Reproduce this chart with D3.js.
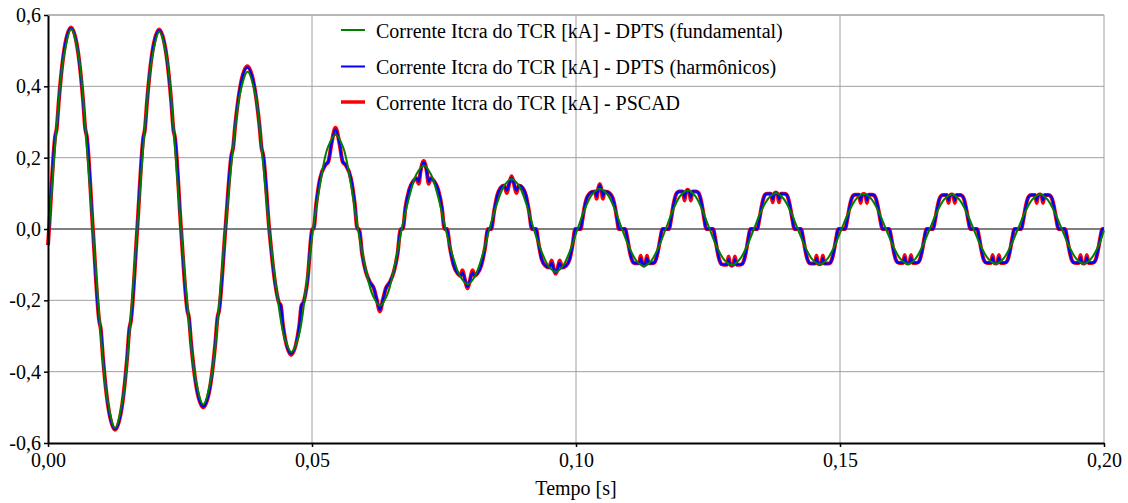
<!DOCTYPE html>
<html><head><meta charset="utf-8">
<script src="https://cdn.jsdelivr.net/npm/d3@7"></script>
<style>
body{margin:0;background:#fff}
svg{display:block}
svg text{font-family:"Liberation Serif","Times New Roman",Times,serif !important;fill:#000}
</style>
</head><body>
<svg id="chart" width="1128" height="503"></svg>
<script>
// ---------- data ----------
const xTicks = [0, 0.05, 0.10, 0.15, 0.20];
const xTickLabels = ["0,00", "0,05", "0,10", "0,15", "0,20"];
const yTicks = [-0.6, -0.4, -0.2, 0, 0.2, 0.4, 0.6];
const yTickLabels = ["-0,6", "-0,4", "-0,2", "0,0", "0,2", "0,4", "0,6"];
const seriesNames = [
  "Corrente Itcra do TCR [kA] - DPTS (fundamental)",
  "Corrente Itcra do TCR [kA] - DPTS (harmônicos)",
  "Corrente Itcra do TCR [kA] - PSCAD"
];
const xLabel = "Tempo [s]";

// fundamental (green) - time [s]
const tFund = [0,
 .0002,.0016,.0030,.0044,.0058,.0071,
 .0085,.0099,.0113,.0127,.0141,.0155,
 .0169,.0183,.0197,.0211,.0225,.0238,
 .0252,.0266,.0280,.0294,.0308,.0322,
 .0336,.0350,.0364,.0378,.0392,.0405,
 .0419,.0433,.0447,.0461,.0475,.0488,
 .0502,.0516,.0530,.0545,.0559,.0573,
 .0587,.0601,.0615,.0629,.0642,.0656,
 .0670,.0684,.0698,.0712,.0725,.0739,
 .0753,.0767,.0781,.0795,.0808,.0822,
 .0836,.0850,.0864,.0878,.0892,.0906,
 .0920,.0934,.0948,.0962,.0975,.0989,
 .1003,.1017,.1031,.1045,.1059,.1073,
 .1087,.1101,.1115,.1129,.1142,.1156,
 .1170,.1184,.1198,.1212,.1225,.1239,
 .1253,.1267,.1281,.1295,.1309,.1323,
 .1337,.1351,.1365,.1379,.1392,.1406,
 .1420,.1434,.1448,.1462,.1475,.1489,
 .1503,.1517,.1531,.1545,.1559,.1573,
 .1587,.1601,.1615,.1629,.1642,.1656,
 .1670,.1684,.1698,.1712,.1725,.1739,
 .1753,.1767,.1781,.1795,.1809,.1823,
 .1837,.1851,.1865,.1879,.1892,.1906,
 .1920,.1934,.1948,.1962,.1975,.1989,
 .2000];
const fundamental = [-.045,
 0,.280,.485,.560,.485,.280,
 0,-.279,-.483,-.558,-.483,-.279,
 0,.277,.479,.553,.479,.277,
 0,-.246,-.426,-.492,-.426,-.246,
 0,.221,.382,.441,.382,.221,
 0,-.173,-.299,-.345,-.299,-.173,
 0,.132,.229,.264,.229,.132,
 0,-.108,-.186,-.215,-.186,-.108,
 0,.089,.154,.178,.154,.089,
 0,-.078,-.134,-.155,-.134,-.078,
 0,.070,.121,.140,.121,.070,
 0,-.060,-.104,-.120,-.104,-.060,
 0,.057,.098,.113,.098,.057,
 0,-.052,-.090,-.104,-.090,-.052,
 0,.054,.094,.108,.094,.054,
 0,-.051,-.087,-.101,-.087,-.051,
 0,.051,.087,.101,.087,.051,
 0,-.050,-.086,-.099,-.086,-.050,
 0,.049,.085,.098,.085,.049,
 0,-.049,-.085,-.098,-.085,-.049,
 0,.049,.084,.097,.084,.049,
 0,-.049,-.084,-.097,-.084,-.049,
 0,.049,.084,.097,.084,.049,
 0,-.049,-.084,-.097,-.084,-.049,
 -.004];

// harmonic models (blue = DPTS harmônicos, red = PSCAD) - time [s]
const tHarm = [0,
 .0002,.00135,.00165,.00205,.00295,.00435,.00575,.00665,.00705,.00735,
 .0085,.0097,.0100,.0104,.0113,.0127,.0141,.0150,.0154,.0157,
 .0169,.01805,.01835,.01875,.01965,.02105,.02245,.02335,.02375,.02405,
 .0252,.0264,.0267,.0271,.0280,.0294,.0308,.0317,.0321,.0324,
 .0336,.03475,.03505,.03545,.03635,.03775,.03915,.04005,.04045,.04075,
 .0419,.0430,.0437,.0441,.0445,.04605,.0476,.0480,.0484,.0491,.0501,
 .0503,.0508,.0515,.0525,.0531,.0537,.05445,.0552,.0558,.0564,.0574,.0581,.0586,
 .0589,.0595,.0602,.0610,.0617,.0623,.06285,.0634,.0640,.0647,.0655,.0662,.0668,
 .0672,.0677,.0684,.0692,.0698,.0702,.0706,.07115,.0717,.0721,.0725,.0731,.0739,.0746,.0751,
 .07558,.0761,.0768,.0776,.0781,.0785,.0790,.07945,.0799,.0804,.0808,.0813,.0821,.0828,.08332,
 .08395,.0845,.0851,.0857,.0864,.0869,.0874,.0878,.0882,.0887,.0892,.0899,.0905,.0911,.09165,
 .09245,.0929,.0935,.0942,.0949,.0954,.0958,.09615,.0965,.0969,.0974,.0981,.0988,.0994,.09985,
 .1009,.1012,.1016,.1020,.1025,.1030,.1036,.1039,.1042,.1045,.1048,.1051,.1054,.1060,.1065,.1070,.1074,.1078,.1081,
 .10935,.10965,.10995,.11025,.11055,.11085,.11125,.11195,.11225,.11255,.11285,.11315,.11345,.11375,.11445,.11485,.11515,.11545,.11575,.11605,.11635,
 .11765,.11795,.11825,.11855,.11885,.11915,.11955,.12025,.12055,.12085,.12115,.12145,.12175,.12205,.12275,.12315,.12345,.12375,.12405,.12435,.12465,
 .1260,.1263,.1266,.1269,.1272,.1275,.1279,.1286,.1289,.1292,.1295,.1298,.1301,.1304,.1311,.1315,.1318,.1321,.1324,.1327,.1330,
 .13435,.13465,.13495,.13525,.13555,.13585,.13625,.13695,.13725,.13755,.13785,.13815,.13845,.13875,.13945,.13985,.14015,.14045,.14075,.14105,.14135,
 .14265,.14295,.14325,.14355,.14385,.14415,.14455,.14525,.14555,.14585,.14615,.14645,.14675,.14705,.14775,.14815,.14845,.14875,.14905,.14935,.14965,
 .1510,.1513,.1516,.1519,.1522,.1525,.1529,.1536,.1539,.1542,.1545,.1548,.1551,.1554,.1561,.1565,.1568,.1571,.1574,.1577,.1580,
 .15935,.15965,.15995,.16025,.16055,.16085,.16125,.16195,.16225,.16255,.16285,.16315,.16345,.16375,.16445,.16485,.16515,.16545,.16575,.16605,.16635,
 .16765,.16795,.16825,.16855,.16885,.16915,.16955,.17025,.17055,.17085,.17115,.17145,.17175,.17205,.17275,.17315,.17345,.17375,.17405,.17435,.17465,
 .1760,.1763,.1766,.1769,.1772,.1775,.1779,.1786,.1789,.1792,.1795,.1798,.1801,.1804,.1811,.1815,.1818,.1821,.1824,.1827,.1830,
 .18435,.18465,.18495,.18525,.18555,.18585,.18625,.18695,.18725,.18755,.18785,.18815,.18845,.18875,.18945,.18985,.19015,.19045,.19075,.19105,.19135,
 .19265,.19295,.19325,.19355,.19385,.19415,.19455,.19525,.19555,.19585,.19615,.19645,.19675,.19705,.19775,.19815,.19845,.19875,.19905,.19935,.19965,
 .2000];
const harmonicos = [-.045,
 0,.259,.282,.36,.49,.563,.49,.36,.282,.259,
 0,-.258,-.281,-.359,-.488,-.561,-.488,-.359,-.281,-.258,
 0,.256,.279,.356,.485,.557,.485,.356,.279,.256,
 0,-.229,-.249,-.319,-.433,-.498,-.433,-.319,-.249,-.229,
 0,.208,.227,.29,.394,.453,.394,.29,.227,.208,
 0,-.15,-.205,-.215,-.27,-.35,-.27,-.215,-.205,-.15,0,
 0,.07,.14,.179,.189,.24,.28,.24,.189,.179,.14,.07,0,
 0,-.07,-.12,-.15,-.166,-.20,-.227,-.20,-.166,-.15,-.12,-.07,0,
 0,.06,.11,.135,.142,.133,.165,.187,.165,.133,.142,.135,.11,.06,0,
 0,-.05,-.10,-.125,-.131,-.122,-.145,-.162,-.145,-.122,-.131,-.125,-.10,-.05,0,
 0,.05,.095,.115,.122,.108,.13,.144,.13,.108,.122,.115,.095,.05,0,
 0,-.04,-.085,-.103,-.108,-.095,-.113,-.122,-.113,-.095,-.108,-.103,-.085,-.04,0,
 0,.025,.06,.085,.098,.104,.105,.092,.112,.123,.112,.092,.105,.104,.098,.085,.06,.025,0,
 0,-.02,-.045,-.068,-.085,-.094,-.096,-.096,-.082,-.096,-.101,-.096,-.082,-.096,-.096,-.094,-.085,-.068,-.045,-.02,0,
 0,.022,.05,.075,.093,.102,.105,.105,.088,.105,.109,.105,.088,.105,.105,.102,.093,.075,.05,.022,0,
 0,-.021,-.047,-.071,-.089,-.098,-.100,-.100,-.085,-.100,-.102,-.100,-.085,-.100,-.100,-.098,-.089,-.071,-.047,-.021,0,
 0,.021,.046,.070,.088,.097,.099,.099,.083,.099,.101,.099,.083,.099,.099,.097,.088,.070,.046,.021,0,
 0,-.020,-.045,-.069,-.086,-.095,-.097,-.097,-.081,-.097,-.098,-.097,-.081,-.097,-.097,-.095,-.086,-.069,-.045,-.020,0,
 0,.020,.045,.068,.085,.094,.096,.096,.080,.096,.097,.096,.080,.096,.096,.094,.085,.068,.045,.020,0,
 0,-.020,-.045,-.068,-.085,-.093,-.095,-.095,-.080,-.095,-.096,-.095,-.080,-.095,-.095,-.093,-.085,-.068,-.045,-.020,0,
 0,.020,.045,.068,.085,.093,.095,.095,.080,.095,.096,.095,.080,.095,.095,.093,.085,.068,.045,.020,0,
 0,-.020,-.045,-.068,-.085,-.093,-.095,-.095,-.080,-.095,-.096,-.095,-.080,-.095,-.095,-.093,-.085,-.068,-.045,-.020,0,
 0,.020,.045,.068,.085,.093,.095,.095,.080,.095,.096,.095,.080,.095,.095,.093,.085,.068,.045,.020,0,
 0,-.020,-.045,-.068,-.085,-.093,-.095,-.095,-.080,-.095,-.096,-.095,-.080,-.095,-.095,-.093,-.085,-.068,-.045,-.020,0,
 0];
const pscad = [-.045,
 0,.259,.282,.36,.49,.565,.49,.36,.282,.259,
 0,-.258,-.281,-.359,-.488,-.563,-.488,-.359,-.281,-.258,
 0,.256,.279,.356,.485,.559,.485,.356,.279,.256,
 0,-.229,-.249,-.319,-.433,-.500,-.433,-.319,-.249,-.229,
 0,.208,.227,.29,.394,.456,.394,.29,.227,.208,
 0,-.15,-.205,-.215,-.27,-.353,-.27,-.215,-.205,-.15,0,
 0,.07,.14,.179,.189,.24,.284,.24,.189,.179,.14,.07,0,
 0,-.07,-.12,-.15,-.166,-.20,-.231,-.20,-.166,-.15,-.12,-.07,0,
 0,.06,.11,.135,.142,.127,.165,.191,.165,.127,.142,.135,.11,.06,0,
 0,-.05,-.10,-.125,-.131,-.116,-.145,-.166,-.145,-.116,-.131,-.125,-.10,-.05,0,
 0,.05,.095,.115,.122,.101,.13,.148,.13,.101,.122,.115,.095,.05,0,
 0,-.04,-.085,-.103,-.108,-.088,-.113,-.125,-.113,-.088,-.108,-.103,-.085,-.04,0,
 0,.025,.06,.085,.098,.104,.105,.085,.112,.126,.112,.085,.105,.104,.098,.085,.06,.025,0,
 0,-.02,-.045,-.068,-.085,-.094,-.096,-.096,-.075,-.096,-.103,-.096,-.075,-.096,-.096,-.094,-.085,-.068,-.045,-.02,0,
 0,.022,.05,.075,.093,.102,.105,.105,.080,.105,.110,.105,.080,.105,.105,.102,.093,.075,.05,.022,0,
 0,-.021,-.047,-.071,-.089,-.098,-.100,-.100,-.077,-.100,-.103,-.100,-.077,-.100,-.100,-.098,-.089,-.071,-.047,-.021,0,
 0,.021,.046,.070,.088,.097,.099,.099,.075,.099,.102,.099,.075,.099,.099,.097,.088,.070,.046,.021,0,
 0,-.020,-.045,-.069,-.086,-.095,-.097,-.097,-.074,-.097,-.099,-.097,-.074,-.097,-.097,-.095,-.086,-.069,-.045,-.020,0,
 0,.020,.045,.068,.085,.094,.096,.096,.073,.096,.098,.096,.073,.096,.096,.094,.085,.068,.045,.020,0,
 0,-.020,-.045,-.068,-.085,-.093,-.095,-.095,-.073,-.095,-.097,-.095,-.073,-.095,-.095,-.093,-.085,-.068,-.045,-.020,0,
 0,.020,.045,.068,.085,.093,.095,.095,.073,.095,.097,.095,.073,.095,.095,.093,.085,.068,.045,.020,0,
 0,-.020,-.045,-.068,-.085,-.093,-.095,-.095,-.073,-.095,-.097,-.095,-.073,-.095,-.095,-.093,-.085,-.068,-.045,-.020,0,
 0,.020,.045,.068,.085,.093,.095,.095,.073,.095,.097,.095,.073,.095,.095,.093,.085,.068,.045,.020,0,
 0,-.020,-.045,-.068,-.085,-.093,-.095,-.095,-.073,-.095,-.097,-.095,-.073,-.095,-.095,-.093,-.085,-.068,-.045,-.020,0,
 0];

// ---------- drawing ----------
const svg = d3.select("#chart");
const X0 = 48, X1 = 1104, Y0 = 443, Y1 = 15;
const x = d3.scaleLinear().domain([0, 0.2]).range([X0, X1]);
const y = d3.scaleLinear().domain([-0.6, 0.6]).range([Y0, Y1]);
const FS = 20;
const FONT = '"Liberation Serif", "Times New Roman", Times, serif';

// grid
const grid = svg.append("g");
grid.selectAll("line.h").data(yTicks.filter(v => v !== 0 && v !== -0.6)).enter().append("line")
  .attr("x1", X0).attr("x2", X1).attr("y1", d => y(d)).attr("y2", d => y(d))
  .attr("stroke", "#a0a0a0").attr("stroke-width", 1);
grid.selectAll("line.v").data(xTicks.filter(v => v !== 0)).enter().append("line")
  .attr("x1", d => x(d)).attr("x2", d => x(d)).attr("y1", Y1).attr("y2", Y0)
  .attr("stroke", "#a0a0a0").attr("stroke-width", 1);
// zero line
svg.append("line").attr("x1", X0).attr("x2", X1).attr("y1", y(0)).attr("y2", y(0))
  .attr("stroke", "#000").attr("stroke-width", 1.2);

// series
const mk = (ts, vs) => ts.map((t, i) => [t, vs[i]]);
const lineH = d3.line().x(d => x(d[0])).y(d => y(d[1])).curve(d3.curveMonotoneX);
const lineF = d3.line().x(d => x(d[0])).y(d => y(d[1])).curve(d3.curveCatmullRom.alpha(0.5));
const colors = ["#008000", "#0000ff", "#ff0000"];
const widths = [2, 2.4, 4];
svg.append("path").datum(mk(tHarm, pscad)).attr("d", lineH)
  .attr("fill", "none").attr("stroke", colors[2]).attr("stroke-width", widths[2]).attr("stroke-linejoin", "round");
svg.append("path").datum(mk(tHarm, harmonicos)).attr("d", lineH)
  .attr("fill", "none").attr("stroke", colors[1]).attr("stroke-width", widths[1]).attr("stroke-linejoin", "round");
svg.append("path").datum(mk(tFund, fundamental)).attr("d", lineF)
  .attr("fill", "none").attr("stroke", colors[0]).attr("stroke-width", widths[0]).attr("stroke-linejoin", "round");

// axes
const yAxis = d3.axisLeft(y).tickValues(yTicks).tickFormat((d, i) => yTickLabels[i]).tickSize(4).tickSizeOuter(0).tickPadding(3);
const gy = svg.append("g").attr("transform", `translate(${X0},0)`).call(yAxis);
const xAxis = d3.axisBottom(x).tickValues(xTicks).tickFormat((d, i) => xTickLabels[i]).tickSize(4).tickSizeOuter(0).tickPadding(6);
const gx = svg.append("g").attr("transform", `translate(0,${Y0})`).call(xAxis);
[gy, gx].forEach(g => {
  g.attr("font-family", FONT).attr("font-size", FS);
  g.select(".domain").attr("stroke", "#000").attr("stroke-width", 2);
  g.selectAll(".tick line").attr("stroke", "#000").attr("stroke-width", 1.5);
  g.selectAll(".tick text").style("font-size", FS + "px").style("font-family", FONT).attr("fill", "#000");
});
// top gray border line at 0.6
svg.append("line").attr("x1", X0).attr("x2", X1).attr("y1", Y1).attr("y2", Y1)
  .attr("stroke", "#a0a0a0").attr("stroke-width", 1);

svg.append("text").attr("x", (X0 + X1) / 2).attr("y", 495).attr("text-anchor", "middle")
  .style("font-size", FS + "px").style("font-family", FONT).text(xLabel);

// legend
const leg = svg.append("g");
const legY = [30, 66.5, 102];
seriesNames.forEach((name, i) => {
  leg.append("line").attr("x1", 341).attr("x2", 365).attr("y1", legY[i]).attr("y2", legY[i])
    .attr("stroke", colors[i]).attr("stroke-width", i === 2 ? 3.5 : 2);
  leg.append("text").attr("x", 376).attr("y", legY[i] + 7.5)
    .style("font-size", FS + "px").style("font-family", FONT).text(name);
});
</script>
</body></html>
